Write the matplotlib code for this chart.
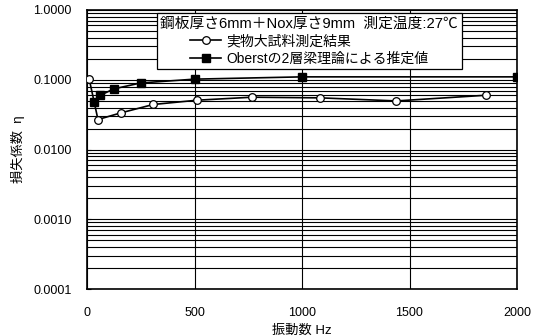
import matplotlib
matplotlib.use("Agg")
import matplotlib.pyplot as plt
from matplotlib.ticker import FixedLocator, LogLocator, NullFormatter, FuncFormatter

plt.rcParams['font.family'] = ['Liberation Sans', 'Noto Sans CJK JP', 'DejaVu Sans']

# Measured loss factor of the full-size specimen
meas_freq = [10, 51, 156, 308, 512, 767, 1085, 1439, 1857]
meas_eta = [0.103, 0.0269, 0.0334, 0.0442, 0.0509, 0.0562, 0.055, 0.0497, 0.060]

# Estimate by Oberst two-layer beam theory
ob_freq = [31.25, 62.5, 125, 250, 500, 1000, 2000]
ob_eta = [0.0477, 0.060, 0.074, 0.090, 0.102, 0.110, 0.110]

x_ticks = [0, 500, 1000, 1500, 2000]
y_ticks = [0.0001, 0.001, 0.01, 0.1, 1.0]

title_text = "鋼板厚さ6mm＋Nox厚さ9mm  測定温度:27℃"
label_meas = "実物大試料測定結果"
label_ob = "Oberstの2層梁理論による推定値"

fs = 9

fig = plt.figure(figsize=(5.34, 3.36), dpi=100)
ax = fig.add_axes([87 / 534, 1 - 289 / 336, 430 / 534, 279 / 336])

ax.set_yscale('log')
ax.set_xlim(0, 2000)
ax.set_ylim(0.0001, 1.0)

ax.yaxis.set_major_locator(FixedLocator(y_ticks))
ax.yaxis.set_minor_locator(LogLocator(base=10, subs=range(2, 10)))
ax.yaxis.set_minor_formatter(NullFormatter())
ax.yaxis.set_major_formatter(FuncFormatter(lambda v, p: f"{v:.4f}"))
ax.xaxis.set_major_locator(FixedLocator(x_ticks))

ax.grid(True, which='both', axis='y', color='black', linewidth=0.8)
ax.grid(True, which='major', axis='x', color='black', linewidth=0.8)

ax.tick_params(axis='y', which='both', direction='in', length=3, labelsize=fs, pad=11)
ax.tick_params(axis='x', which='both', length=0, labelsize=fs, pad=13)
for s in ax.spines.values():
    s.set_color('black')
    s.set_linewidth(1.2)

ax.plot(meas_freq, meas_eta, color='black', linewidth=1.2, marker='o',
        markersize=5.5, markerfacecolor='white', markeredgecolor='black',
        markeredgewidth=0.9, label=label_meas, zorder=3)
ax.plot(ob_freq, ob_eta, color='black', linewidth=1.2, marker='s',
        markersize=6, markerfacecolor='black', markeredgecolor='black',
        label=label_ob, zorder=3)

leg = ax.legend(title=title_text, loc='upper left',
                bbox_to_anchor=((157 - 87) / 430, (289 - 13) / 279),
                prop={'size': 10}, title_fontproperties={'size': 10.6},
                alignment='center',
                frameon=True, fancybox=False, edgecolor='black',
                framealpha=1, handlelength=2.2, handletextpad=0.4,
                borderpad=0.25, labelspacing=0.25, borderaxespad=0)
leg.get_frame().set_linewidth(0.9)

ax.set_xlabel("振動数 Hz", fontsize=9.5, labelpad=4)
ax.set_ylabel("損失係数  η", fontsize=9.5, labelpad=6)

fig.savefig("out.png", dpi=100)
